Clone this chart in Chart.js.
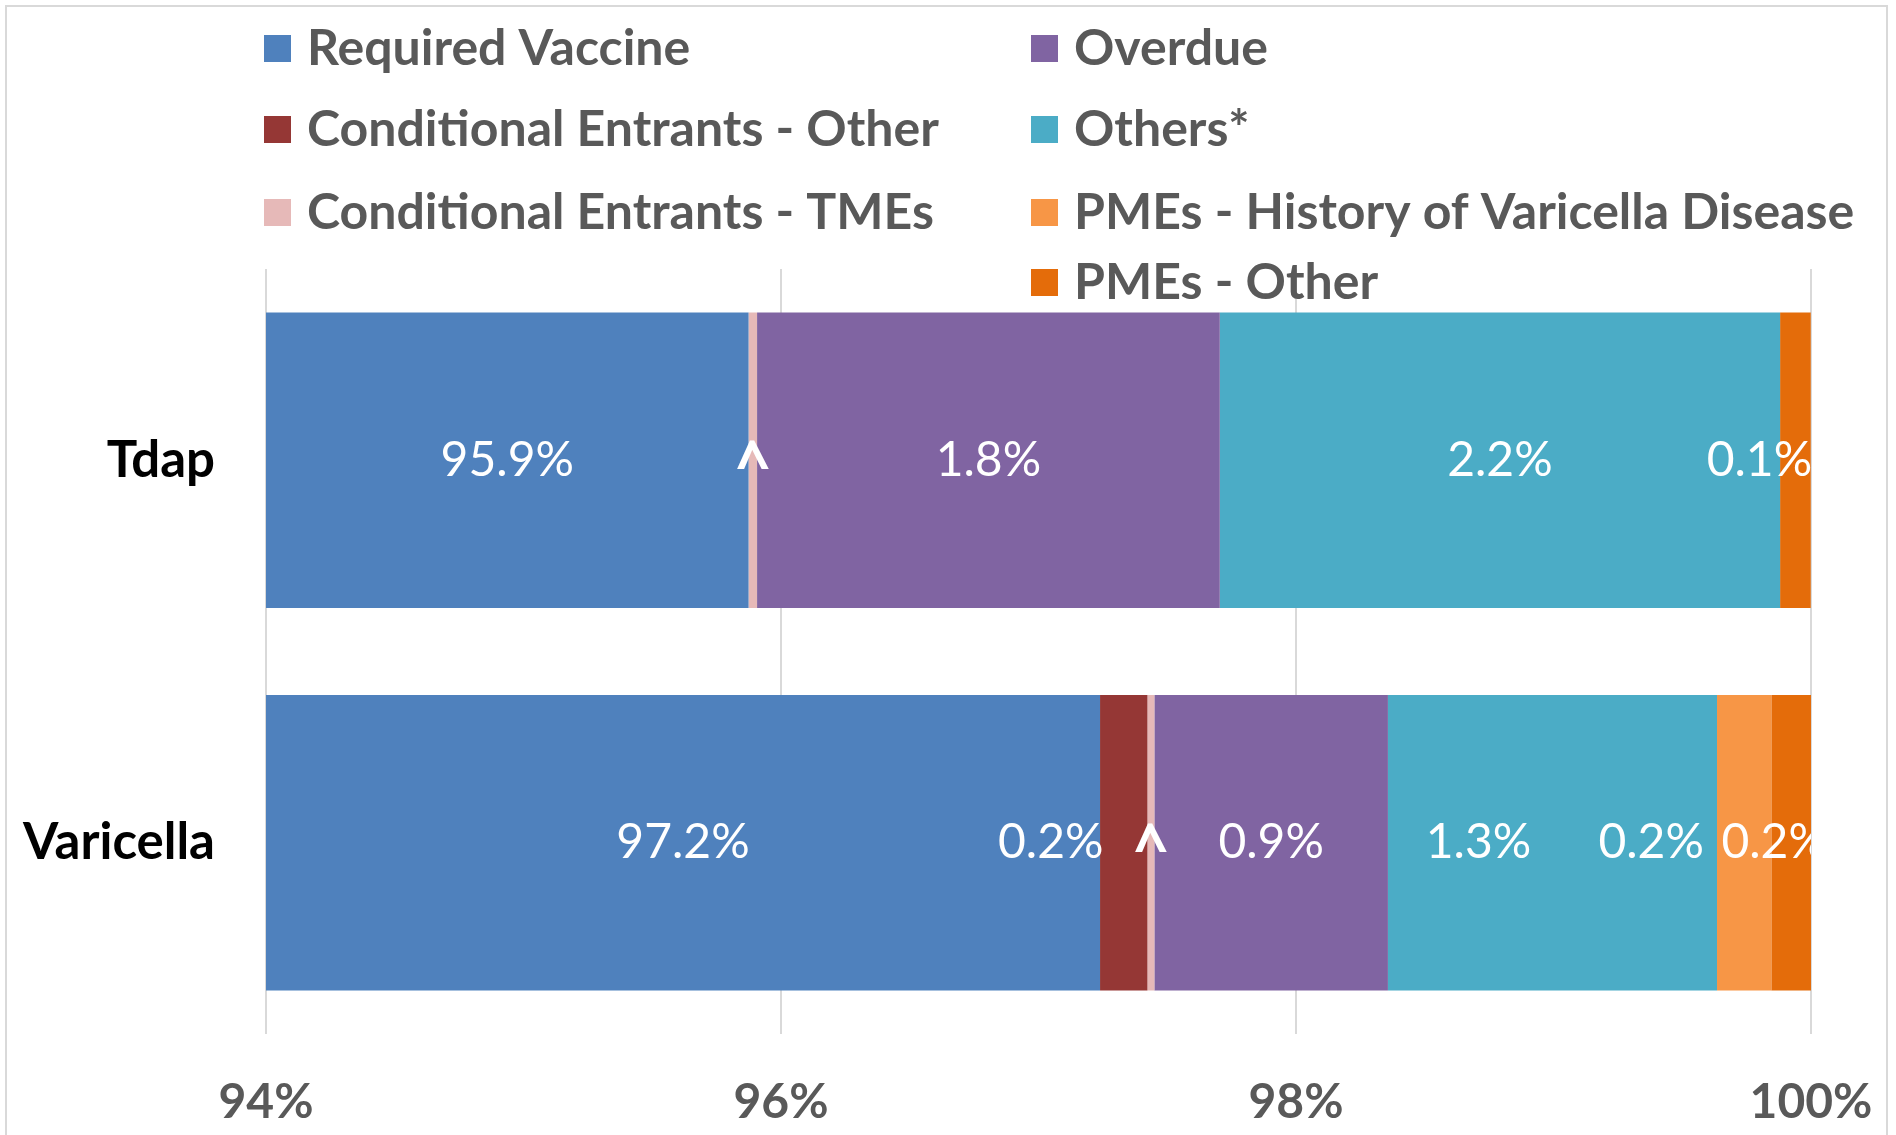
<!DOCTYPE html>
<html>
<head>
<meta charset="utf-8">
<script src="https://cdn.jsdelivr.net/npm/chart.js@4.4.1/dist/chart.umd.min.js"></script>
<style>
  html, body { margin: 0; padding: 0; background: #fff; }
  #wrap { width: 1896px; height: 1135px; position: relative; }
</style>
</head>
<body>
<div id="wrap"><canvas id="chart"></canvas></div>
<script>
// Datos (porcentaje de alumnos)
const categorias = ['Tdap', 'Varicella'];
const requiredVaccine = [95.874, 97.239];
const condOther = [0, 0.184];
const condTMEs = [0.033, 0.027];
const overdue = [1.797, 0.907];
const others = [2.176, 1.278];
const pmeHistory = [0, 0.211];
const pmeOther = [0.119, 0.154];
const ticksX = [94, 96, 98, 100];

const FONT = 'Lato, "Open Sans", sans-serif';

const series = [
    { label: 'Required Vaccine', data: requiredVaccine, color: '#4F81BD' },
    { label: 'Conditional Entrants - Other', data: condOther, color: '#953735' },
    { label: 'Conditional Entrants - TMEs', data: condTMEs, color: '#E6B9B8', caret: true },
    { label: 'Overdue', data: overdue, color: '#8064A2' },
    { label: 'Others*', data: others, color: '#4BACC6' },
    { label: 'PMEs - History of Varicella Disease', data: pmeHistory, color: '#F79646' },
    { label: 'PMEs - Other', data: pmeOther, color: '#E46C0A' }
];

// desplazamiento manual de etiquetas (px), como en el original
const nudges = {
    '6-0': -36,
    '1-1': -73, '4-1': -74, '5-1': -93, '6-1': -17
};

// etiquetas de datos en blanco
const etiquetas = {
    id: 'etiquetas',
    afterDatasetsDraw(chart) {
        const ctx = chart.ctx;
        const area = chart.chartArea;
        ctx.save();
        ctx.beginPath();
        ctx.rect(area.left, area.top, area.right - area.left, area.bottom - area.top);
        ctx.clip();
        ctx.fillStyle = '#ffffff';
        ctx.textAlign = 'center';
        chart.data.datasets.forEach((ds, i) => {
            const meta = chart.getDatasetMeta(i);
            meta.data.forEach((el, j) => {
                const v = ds.data[j];
                if (!v) return;
                const a = Math.max(area.left, Math.min(el.x, el.base));
                const b = Math.min(area.right, Math.max(el.x, el.base));
                const x = (a + b) / 2 + (nudges[i + '-' + j] || 0);
                if (series[i].caret) {
                    ctx.font = 'bold 60px "Open Sans", sans-serif';
                    ctx.textBaseline = 'alphabetic';
                    ctx.fillText('^', x, el.y + 25);
                } else {
                    ctx.font = '48px ' + FONT;
                    ctx.textBaseline = 'middle';
                    ctx.fillText(v.toFixed(1) + '%', x, el.y);
                }
            });
        });
        ctx.restore();
    }
};

// leyenda en dos columnas (orden por columnas) y marco del grafico
const leyenda = {
    id: 'leyenda',
    afterDraw(chart) {
        const ctx = chart.ctx;
        ctx.save();
        ctx.strokeStyle = '#d9d9d9';
        ctx.lineWidth = 2;
        ctx.strokeRect(6, 6, 1881, 1200);
        const cols = [264, 1031];
        const rows = [48, 129, 212, 282];
        ctx.font = 'bold 50px ' + FONT;
        ctx.textBaseline = 'middle';
        ctx.textAlign = 'left';
        series.forEach((s, k) => {
            const c = k < 3 ? 0 : 1;
            const r = k < 3 ? k : k - 3;
            const x = cols[c], y = rows[r];
            ctx.fillStyle = s.color;
            ctx.fillRect(x, y - 13, 27, 27);
            ctx.fillStyle = '#595959';
            ctx.fillText(s.label, x + 43, y + 1);
        });
        ctx.restore();
    }
};

new Chart(document.getElementById('chart'), {
    type: 'bar',
    data: {
        labels: categorias,
        datasets: series.map(s => ({
            label: s.label,
            data: s.data,
            backgroundColor: s.color,
            borderWidth: 0,
            categoryPercentage: 1,
            barPercentage: 0.773
        }))
    },
    options: {
        indexAxis: 'y',
        responsive: true,
        maintainAspectRatio: false,
        animation: false,
        layout: { padding: { top: 269, right: 85, left: 0, bottom: 0 } },
        plugins: {
            legend: { display: false },
            tooltip: { enabled: false }
        },
        scales: {
            x: {
                stacked: true,
                min: 94,
                max: 100,
                afterBuildTicks: axis => { axis.ticks = ticksX.map(v => ({ value: v })); },
                afterFit: axis => {
                    axis.height = 101;
                    axis.paddingLeft = 0;
                    axis.paddingRight = 0;
                },
                grid: { color: '#d9d9d9', lineWidth: 2, drawTicks: false },
                border: { display: false },
                ticks: {
                    padding: 40,
                    color: '#595959',
                    font: { family: FONT, size: 48, weight: 'bold' },
                    callback: v => v + '%'
                }
            },
            y: {
                stacked: true,
                afterFit: axis => { axis.width = 266; },
                grid: { display: false, drawTicks: false },
                border: { display: false },
                ticks: {
                    padding: 51,
                    color: '#000000',
                    font: { family: FONT, size: 51, weight: 'bold' }
                }
            }
        }
    },
    plugins: [etiquetas, leyenda]
});
</script>
</body>
</html>
